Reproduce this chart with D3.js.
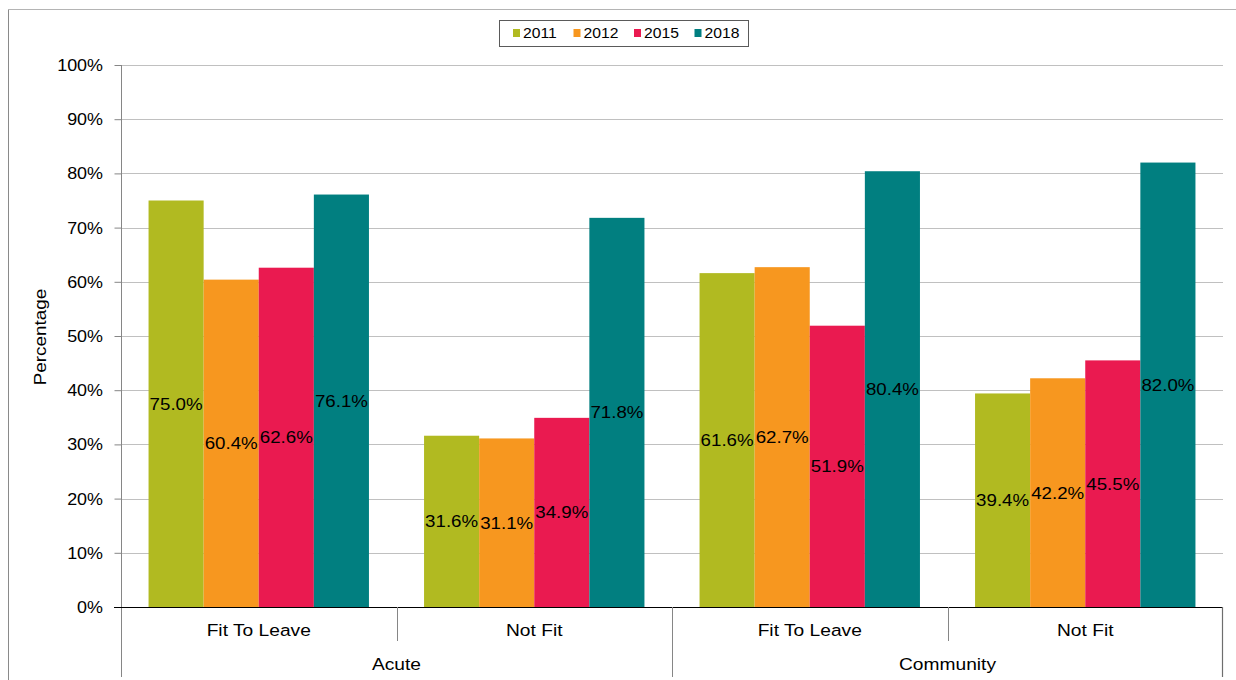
<!DOCTYPE html>
<html>
<head>
<meta charset="utf-8">
<script src="https://cdn.jsdelivr.net/npm/d3@7"></script>
<style>
  html, body { margin: 0; padding: 0; background: #fff; }
  svg { display: block; font-family: "Liberation Sans", Arial, sans-serif; }
</style>
</head>
<body>
<svg id="chart" width="1236" height="680"></svg>
<script>
// Categories: settings and status within each setting
const settings = ["Acute", "Community"];
const statuses = ["Fit To Leave", "Not Fit"];
const years = ["2011", "2012", "2015", "2018"];
const colors = ["#b1ba21", "#f7971f", "#ea1a50", "#017f80"];

// Percentages per year, in order: Acute/Fit, Acute/Not Fit, Community/Fit, Community/Not Fit
const values2011 = [75.0, 31.6, 61.6, 39.4];
const values2012 = [60.4, 31.1, 62.7, 42.2];
const values2015 = [62.6, 34.9, 51.9, 45.5];
const values2018 = [76.1, 71.8, 80.4, 82.0];
const seriesValues = [values2011, values2012, values2015, values2018];

const yTicks = [0, 10, 20, 30, 40, 50, 60, 70, 80, 90, 100];

const svg = d3.select("#chart");
const plot = { left: 121, right: 1223, top: 65, bottom: 607 };

// Outer frame
svg.append("line").attr("x1", 8.5).attr("x2", 1236).attr("y1", 9.5).attr("y2", 9.5)
  .attr("stroke", "#b4b4b4").attr("stroke-width", 1);
svg.append("line").attr("x1", 8.5).attr("x2", 8.5).attr("y1", 9.5).attr("y2", 680)
  .attr("stroke", "#8a8a8a").attr("stroke-width", 1);

// Stretched text helper
function stretchedText(sel, x, y, txt, size, sx, anchor, rotate) {
  const t = sel.append("text")
    .attr("transform", `translate(${x},${y})` + (rotate ? ` rotate(${rotate})` : "") + ` scale(${sx},1)`)
    .attr("font-size", size)
    .attr("text-anchor", anchor)
    .attr("fill", "#000")
    .text(txt);
  return t;
}

const y = d3.scaleLinear().domain([0, 100]).range([plot.bottom, plot.top]);

const keys = [];
settings.forEach(s => statuses.forEach(st => keys.push(s + "|" + st)));
const x0 = d3.scaleBand().domain(keys).range([plot.left, plot.right]).paddingInner(0).paddingOuter(0);
const x1 = d3.scaleBand().domain(years).range([0, x0.bandwidth()]).paddingInner(0).paddingOuter(0.5);

// Gridlines
svg.append("g").selectAll("line").data(yTicks.filter(d => d > 0)).join("line")
  .attr("x1", plot.left).attr("x2", plot.right)
  .attr("y1", d => Math.round(y(d)) + 0.5).attr("y2", d => Math.round(y(d)) + 0.5)
  .attr("stroke", "#c0c0c0").attr("stroke-width", 1);

// Bars
const barG = svg.append("g");
keys.forEach((k, ci) => {
  years.forEach((yr, si) => {
    const v = seriesValues[si][ci];
    barG.append("rect")
      .attr("x", x0(k) + x1(yr))
      .attr("y", y(v))
      .attr("width", x1.bandwidth())
      .attr("height", y(0) - y(v))
      .attr("fill", colors[si]);
  });
});

// Data labels, centred in each bar
const labG = svg.append("g");
keys.forEach((k, ci) => {
  years.forEach((yr, si) => {
    const v = seriesValues[si][ci];
    stretchedText(labG, x0(k) + x1(yr) + x1.bandwidth() / 2, y(v / 2) + 6,
      v.toFixed(1) + "%", 17, 1.1, "middle");
  });
});

// Y axis
const yAxis = d3.axisLeft(y).tickValues(yTicks).tickSize(7).tickPadding(11)
  .tickFormat(d => d + "%");
const yg = svg.append("g").attr("transform", `translate(${plot.left + 0.5},0)`).call(yAxis);
yg.select(".domain").remove();
yg.selectAll(".tick line").attr("stroke", "#868686");
yg.selectAll(".tick text").remove();
yTicks.forEach(t => stretchedText(svg, 103, y(t) + 6, t + "%", 16, 1.12, "end"));
svg.append("line").attr("x1", plot.left + 0.5).attr("x2", plot.left + 0.5)
  .attr("y1", plot.top).attr("y2", 677).attr("stroke", "#868686");

// Baseline
svg.append("line").attr("x1", 114).attr("x2", plot.right)
  .attr("y1", plot.bottom + 0.5).attr("y2", plot.bottom + 0.5).attr("stroke", "#000");

// Multi-level category axis dividers
const divG = svg.append("g");
keys.forEach((k, i) => {
  if (i === 0) return;
  const xx = Math.round(x0(k)) + 0.5;
  const outer = keys[i].split("|")[0] !== keys[i - 1].split("|")[0];
  divG.append("line").attr("x1", xx).attr("x2", xx)
    .attr("y1", plot.bottom).attr("y2", outer ? 677 : 641).attr("stroke", "#868686");
});
divG.append("line").attr("x1", plot.right - 0.5).attr("x2", plot.right - 0.5)
  .attr("y1", plot.bottom).attr("y2", 677).attr("stroke", "#6e6e6e").attr("stroke-width", 1.2);

keys.forEach(k => {
  stretchedText(svg, x0(k) + x0.bandwidth() / 2, 636, k.split("|")[1], 17, 1.13, "middle");
});
settings.forEach(s => {
  const a = x0(s + "|" + statuses[0]);
  const b = x0(s + "|" + statuses[statuses.length - 1]) + x0.bandwidth();
  stretchedText(svg, (a + b) / 2, 670, s, 17, 1.13, "middle");
});

// Axis title
stretchedText(svg, 46, 337, "Percentage", 16, 1.18, "middle", -90);

// Legend
const lg = svg.append("g");
lg.append("rect").attr("x", 499.5).attr("y", 20.5).attr("width", 249).attr("height", 26)
  .attr("fill", "#fff").attr("stroke", "#5a5a5a").attr("stroke-width", 1);
years.forEach((yr, i) => {
  const lx = 513 + i * 60.5;
  lg.append("rect").attr("x", lx).attr("y", 29).attr("width", 7).attr("height", 8).attr("fill", colors[i]);
  stretchedText(lg, lx + 10, 38, yr, 14, 1.12, "start");
});
</script>
</body>
</html>
